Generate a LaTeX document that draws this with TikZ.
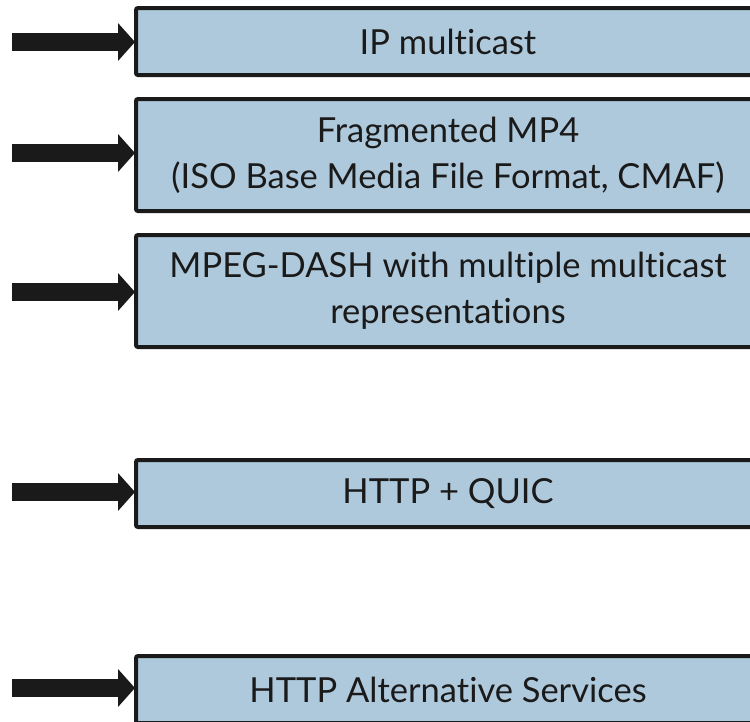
\documentclass[tikz,border=0pt]{standalone}
\usepackage{fontspec}
\setmainfont{Lato}[Ligatures={NoCommon}]
\usetikzlibrary{arrows.meta}
\definecolor{boxfill}{HTML}{AFC9DC}
\definecolor{boxline}{HTML}{1A1A1A}
\tikzset{
  layerbox/.style={draw=boxline, line width=4pt, fill=boxfill, rounded corners=2pt,
    minimum width=624pt, inner sep=0pt, align=center, anchor=west,
    font=\fontsize{34.5}{46}\selectfont, text=boxline},
  feedarrow/.style={draw=boxline, line width=18pt,
    -{Triangle[length=17pt,width=37pt]}, shorten >=-1pt}
}
\begin{document}
\begin{tikzpicture}[x=1pt,y=1pt]
\useasboundingbox (0,0) rectangle (750,-721);
\clip (0,0) rectangle (750,-721);
\node[layerbox, minimum height=67pt] (b1) at (134,-41.5) {IP multicast};
\node[layerbox, minimum height=112pt] (b2) at (134,-155) {Fragmented MP4\\(ISO Base Media File Format, CMAF)};
\node[layerbox, minimum height=112pt] (b3) at (134,-291) {MPEG-DASH with multiple multicast\\representations};
\node[layerbox, minimum height=67pt] (b4) at (134,-493.5) {HTTP + QUIC};
\node[layerbox, minimum height=67pt] (b5) at (134,-689.5) {HTTP Alternative Services};
\coordinate (a1) at (12,-42);
\coordinate (a2) at (12,-153);
\coordinate (a3) at (12,-292);
\coordinate (a4) at (12,-492);
\coordinate (a5) at (12,-688);
\draw[feedarrow] (a1) -- (a1 -| b1.west);
\draw[feedarrow] (a2) -- (a2 -| b2.west);
\draw[feedarrow] (a3) -- (a3 -| b3.west);
\draw[feedarrow] (a4) -- (a4 -| b4.west);
\draw[feedarrow] (a5) -- (a5 -| b5.west);
\end{tikzpicture}
\end{document}
